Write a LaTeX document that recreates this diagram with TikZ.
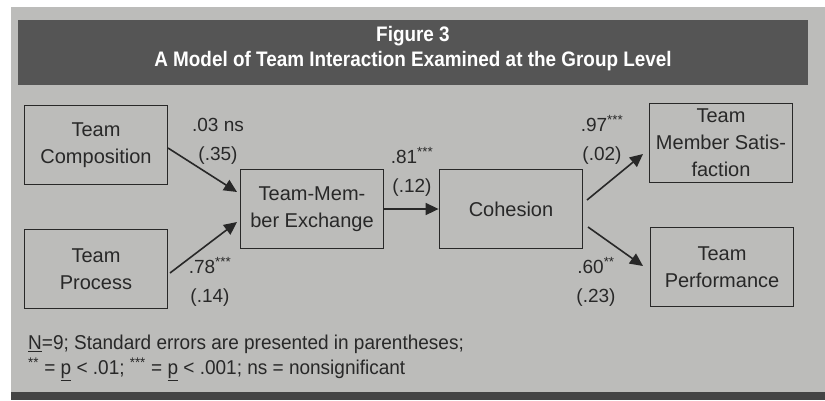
\documentclass[tikz,border=0pt]{standalone}
\usepackage{fontspec}
\setmainfont{Liberation Sans}
\newfontfamily\condfont[FakeStretch=0.9]{Liberation Sans}
\newfontfamily\notefont[FakeStretch=0.95]{Liberation Sans}
\usetikzlibrary{arrows.meta}
\definecolor{panel}{RGB}{188,188,186}
\definecolor{band}{RGB}{85,85,85}
\definecolor{ink}{RGB}{40,40,40}
\begin{document}
\begin{tikzpicture}[x=1pt,y=-1pt,
  box/.style={draw=ink,line width=1.8pt,fill=panel,minimum width=143pt,minimum height=79pt,
    align=center,font=\fontsize{20}{27}\selectfont,text=ink,inner sep=0pt},
  lab/.style={font=\fontsize{19}{29}\selectfont,text=ink,align=center,inner sep=0pt},
  arr/.style={draw=ink,line width=1.6pt,-{Triangle[length=13pt,width=12pt]}}]
\useasboundingbox (0,0) rectangle (825,400);
\fill[white] (0,0) rectangle (825,400);
\fill[panel] (11,7) rectangle (825,392);
\fill[band!80!black] (11,392) rectangle (825,400);
\fill[band] (18,20) rectangle (808,85);
\node[font=\condfont\bfseries\fontsize{21}{25}\selectfont,text=white,align=center] (title) at (413,49)
  {Figure 3\\A Model of Team Interaction Examined at the Group Level};
\node[box] (comp) at (96,145) {Team\\Composition};
\node[box] (proc) at (96,269) {Team\\Process};
\node[box] (tmx) at (312,209) {Team-Mem-\\ber Exchange};
\node[box] (coh) at (511,209) {Cohesion};
\node[box] (sat) at (721,143) {Team\\Member Satis-\\faction};
\node[box] (perf) at (722,267) {Team\\Performance};
\coordinate (s1) at (168,148);
\coordinate (t1) at (237,192);
\coordinate (s2) at (170,273);
\coordinate (t2) at (237,222);
\coordinate (s4) at (587,200);
\coordinate (t4) at (643,154);
\coordinate (s5) at (588,227);
\coordinate (t5) at (643,266);
\draw[arr] (s1) -- (t1);
\draw[arr] (s2) -- (t2);
\draw[arr] (tmx.east) -- (coh.west);
\draw[arr] (s4) -- (t4);
\draw[arr] (s5) -- (t5);
\node[lab] (l1) at (218,141) {.03 ns\\(.35)};
\node[lab] (l2) at (210,282) {.78\textsuperscript{***}\\(.14)};
\node[lab] (l3) at (412,172) {.81\textsuperscript{***}\\(.12)};
\node[lab] (l4) at (602,140) {.97\textsuperscript{***}\\(.02)};
\node[lab] (l5) at (596,282) {.60\textsuperscript{**}\\(.23)};
\node[font=\notefont\fontsize{20}{25}\selectfont,text=ink,align=left,anchor=west,inner sep=0pt] (note) at (28,358)
  {\underline{N}=9; Standard errors are presented in parentheses;\\
   \textsuperscript{**} = \underline{p} < .01; \textsuperscript{***} = \underline{p} < .001; ns = nonsignificant};
\end{tikzpicture}
\end{document}
